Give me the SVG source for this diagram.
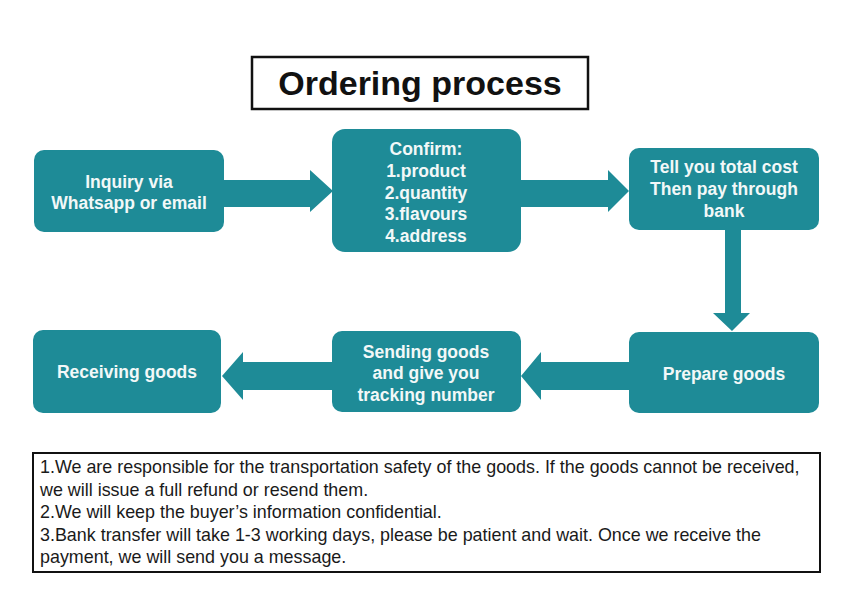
<svg xmlns="http://www.w3.org/2000/svg" width="846" height="605" viewBox="0 0 846 605">
<style>
.node{fill:#1e8b97;}
.nt{font-family:"Liberation Sans",Arial,sans-serif;font-weight:bold;font-size:17.5px;fill:#f2f8f8;text-anchor:middle;}
.arr{fill:#1e8b97;}
.note{font-family:"Liberation Sans",Arial,sans-serif;font-size:17.9px;fill:#1a1a1a;}
</style>
<rect width="846" height="605" fill="#ffffff"/>
<g id="title">
<rect x="252" y="57" width="336" height="52" fill="#fff" stroke="#111" stroke-width="2.5"/>
<text x="420" y="95" font-family="Liberation Sans,Arial,sans-serif" font-weight="bold" font-size="34" text-anchor="middle" fill="#111">Ordering process</text>
</g>
<g id="connectors">
<polygon class="arr" points="224,180 310,180 310,170 333,191 310,212 310,207 224,207"/>
<polygon class="arr" points="521,180 608,180 608,170 629,191 608,212 608,207 521,207"/>
<polygon class="arr" points="725,230 741,230 741,313 750,313 732,331 713,313 725,313"/>
<polygon class="arr" points="629,362 541,362 541,352 521,376 541,400 541,390 629,390"/>
<polygon class="arr" points="332,362 243,362 243,352 222,376 243,400 243,390 332,390"/>
</g>
<g id="n1">
<rect class="node" x="34" y="150" width="190" height="82" rx="10"/>
<text class="nt" x="129" y="188">Inquiry via</text>
<text class="nt" x="129" y="209">Whatsapp or email</text>
</g>
<g id="n2">
<rect class="node" x="332" y="129" width="189" height="123" rx="13"/>
<text class="nt" x="426" y="155">Confirm:</text>
<text class="nt" x="426" y="177">1.product</text>
<text class="nt" x="426" y="199">2.quantity</text>
<text class="nt" x="426" y="220">3.flavours</text>
<text class="nt" x="426" y="242">4.address</text>
</g>
<g id="n3">
<rect class="node" x="629" y="148" width="190" height="82" rx="10"/>
<text class="nt" x="724" y="173">Tell you total cost</text>
<text class="nt" x="724" y="195">Then pay through</text>
<text class="nt" x="724" y="217">bank</text>
</g>
<g id="n4">
<rect class="node" x="629" y="332" width="190" height="81" rx="10"/>
<text class="nt" x="724" y="380">Prepare goods</text>
</g>
<g id="n5">
<rect class="node" x="332" y="331" width="189" height="81" rx="10"/>
<text class="nt" x="426" y="358">Sending goods</text>
<text class="nt" x="426" y="379">and give you</text>
<text class="nt" x="426" y="401">tracking number</text>
</g>
<g id="n6">
<rect class="node" x="33" y="330" width="188" height="83" rx="10"/>
<text class="nt" x="127" y="378">Receiving goods</text>
</g>
<g id="notes">
<rect x="33" y="453" width="787" height="119" fill="#fff" stroke="#111" stroke-width="2"/>
<text class="note" x="40" y="473">1.We are responsible for the transportation safety of the goods. If the goods cannot be received,</text>
<text class="note" x="40" y="496">we will issue a full refund or resend them.</text>
<text class="note" x="40" y="518">2.We will keep the buyer’s information confidential.</text>
<text class="note" x="40" y="541">3.Bank transfer will take 1-3 working days, please be patient and wait. Once we receive the</text>
<text class="note" x="40" y="563">payment, we will send you a message.</text>
</g>
</svg>
